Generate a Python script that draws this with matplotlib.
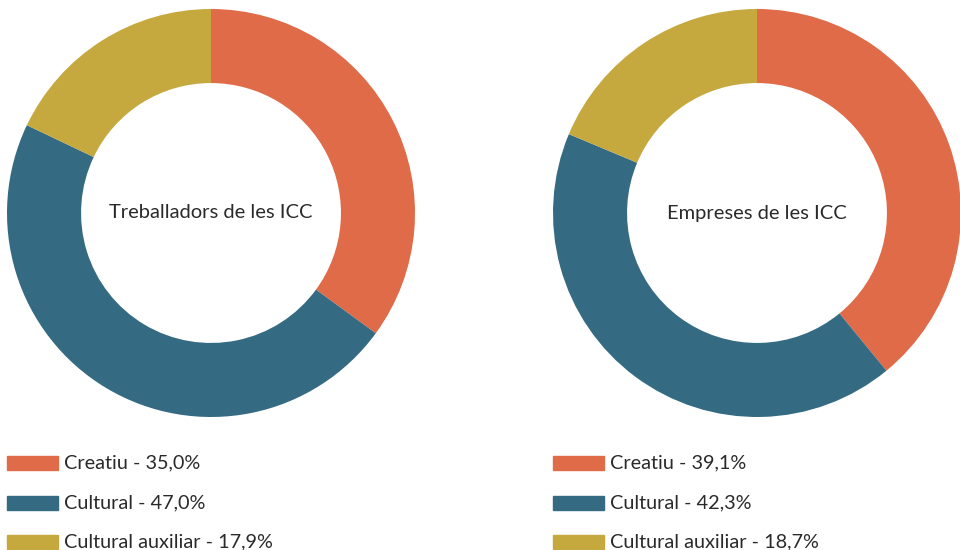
import matplotlib.pyplot as plt
from matplotlib.patches import Rectangle

plt.rcParams['font.family'] = ['Lato', 'DejaVu Sans']

categories = ['Creatiu', 'Cultural', 'Cultural auxiliar']
treballadors = [35.0, 47.0, 17.9]
empreses = [39.1, 42.3, 18.7]
colors = ['#E06B49', '#356B82', '#C5A93E']
charts = [('Treballadors de les ICC', treballadors), ('Empreses de les ICC', empreses)]

W, H = 960, 550
fig = plt.figure(figsize=(W / 100, H / 100), dpi=100)

# posicions en pixels
lefts = [7, 553]
for (title, vals), left in zip(charts, lefts):
    ax = fig.add_axes([left / W, 133 / H, 408 / W, 408 / H])
    ax.pie(vals, colors=colors, startangle=90, counterclock=False,
           wedgeprops=dict(width=0.363, edgecolor='none'), radius=1)
    ax.set_xlim(-1, 1)
    ax.set_ylim(-1, 1)
    ax.set_aspect('equal')
    ax.text(0, 0, title, ha='center', va='center', fontsize=14.5, color='#2a2a2a')

    # llegenda
    for i, (cat, v) in enumerate(zip(categories, vals)):
        yc = 463 + i * 39.5
        fig.patches.append(Rectangle((left / W, (H - yc - 7) / H), 51 / W, 14 / H,
                                     transform=fig.transFigure, color=colors[i]))
        label = '%s - %s%%' % (cat, ('%.1f' % v).replace('.', ','))
        fig.text((left + 57) / W, (H - yc) / H, label, ha='left', va='center',
                 fontsize=14.3, color='#2a2a2a')

fig.savefig('out.png', dpi=100)
